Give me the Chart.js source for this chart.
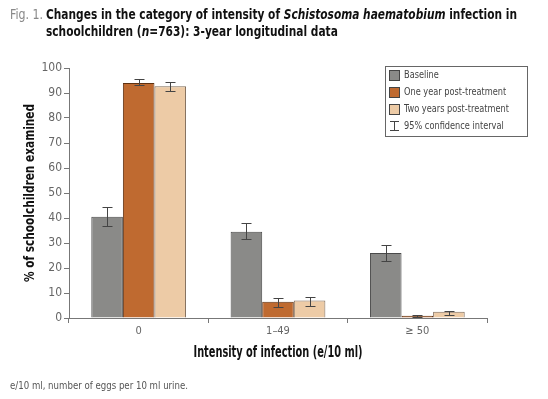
<!DOCTYPE html>
<html><head><meta charset="utf-8">
<script src="https://cdn.jsdelivr.net/npm/chart.js@4"></script>
<style>
html,body{margin:0;padding:0;background:#fff;}
#wrap{position:relative;width:548px;height:399px;overflow:hidden;font-family:"Liberation Sans Narrow","DejaVu Sans Condensed",sans-serif;}
#c{position:absolute;left:0;top:0;}
.sq{position:absolute;white-space:nowrap;transform-origin:0 0;}
#fig{left:10px;top:6px;font-size:14px;line-height:17px;color:#888;}
#ttl{left:46px;top:6px;font-size:14px;line-height:17px;color:#111;font-weight:bold;}
#foot{left:10px;top:379px;font-size:11px;line-height:14px;color:#555;}
</style></head>
<body>
<div id="wrap">
<canvas id="c" width="548" height="399"></canvas>
<div id="fig" class="sq">Fig. 1.</div>
<div id="ttl" class="sq"><span id="l1">Changes in the category of intensity of <i>Schistosoma haematobium</i> infection in</span><br><span>schoolchildren (<i>n</i>=763): 3-year longitudinal data</span></div>
<div id="foot" class="sq">e/10 ml, number of eggs per 10 ml urine.</div>
</div>
<script>
const FONT = '"Liberation Sans Narrow","DejaVu Sans Condensed",sans-serif';
const categories = ['0', '1–49', '≥ 50'];
const seriesNames = ['Baseline', 'One year post-treatment', 'Two years post-treatment'];
const baseline = [40.5, 34.5, 26.0];
const oneYear = [94.0, 6.5, 0.9];
const twoYears = [92.7, 7.0, 2.5];
const baselineLo = [37.0, 31.5, 23.0];
const baselineHi = [44.5, 38.0, 29.2];
const oneYearLo = [93.0, 4.5, 0.5];
const oneYearHi = [95.5, 8.2, 1.3];
const twoYearsLo = [91.0, 4.8, 1.4];
const twoYearsHi = [94.5, 8.4, 3.0];
const yTicks = [0, 10, 20, 30, 40, 50, 60, 70, 80, 90, 100];
const ciLabel = '95% confidence interval';
const xTitle = 'Intensity of infection (e/10 ml)';
const yTitle = '% of schoolchildren examined';

// squeeze HTML text horizontally to match the condensed typeface
function squeeze(el, measureEl, target) {
  const w = measureEl.getBoundingClientRect().width;
  el.style.transform = 'scaleX(' + (target / w) + ')';
}
squeeze(document.getElementById('fig'), document.getElementById('fig'), 33);
squeeze(document.getElementById('ttl'), document.getElementById('l1'), 471);
squeeze(document.getElementById('foot'), document.getElementById('foot'), 178);

const fills = ['#8a8a88', '#bf6a30', '#edcba6'];
const borders = ['#4a4a4a', '#5e3010', '#7d6a58'];
const errLo = [baselineLo, oneYearLo, twoYearsLo];
const errHi = [baselineHi, oneYearHi, twoYearsHi];

function squeezedText(ctx, text, x, y, target, rot) {
  const w = ctx.measureText(text).width;
  ctx.save();
  ctx.translate(x, y);
  if (rot) ctx.rotate(rot);
  ctx.scale(target / w, 1);
  ctx.fillText(text, 0, 0);
  ctx.restore();
}

const errorBars = {
  id: 'errorBars',
  afterDatasetsDraw(chart) {
    const ctx = chart.ctx, y = chart.scales.y;
    ctx.save();
    ctx.strokeStyle = '#444';
    ctx.lineWidth = 1;
    chart.data.datasets.forEach((ds, di) => {
      chart.getDatasetMeta(di).data.forEach((bar, i) => {
        const x = Math.round(bar.x) + 0.5;
        const top = Math.round(y.getPixelForValue(errHi[di][i])) + 0.5;
        const bot = Math.round(y.getPixelForValue(errLo[di][i])) + 0.5;
        ctx.beginPath();
        ctx.moveTo(x, top); ctx.lineTo(x, bot);
        ctx.moveTo(x - 5, top); ctx.lineTo(x + 5, top);
        ctx.moveTo(x - 5, bot); ctx.lineTo(x + 5, bot);
        ctx.stroke();
      });
    });
    ctx.restore();
  }
};

const decorations = {
  id: 'decorations',
  afterDraw(chart) {
    const ctx = chart.ctx, a = chart.chartArea;
    ctx.save();
    // axis titles
    ctx.fillStyle = '#111';
    ctx.textAlign = 'center';
    ctx.textBaseline = 'middle';
    ctx.font = 'bold 15px ' + FONT;
    squeezedText(ctx, xTitle, (a.left + a.right) / 2, 353, 169, 0);
    ctx.font = 'bold 14px ' + FONT;
    squeezedText(ctx, yTitle, 30, (a.top + a.bottom) / 2, 178, -Math.PI / 2);
    // legend
    const bx = 385.5, by = 66.5, bw = 142, bh = 70;
    ctx.fillStyle = '#fff';
    ctx.fillRect(bx, by, bw, bh);
    ctx.strokeStyle = '#666';
    ctx.lineWidth = 1;
    ctx.strokeRect(bx, by, bw, bh);
    ctx.font = '11px ' + FONT;
    ctx.textAlign = 'left';
    const k = 105 / ctx.measureText(seriesNames[2]).width;
    const rows = [75, 92, 109, 126];
    seriesNames.forEach((n, i) => {
      ctx.fillStyle = fills[i];
      ctx.fillRect(389, rows[i] - 5, 10, 10);
      ctx.strokeStyle = '#444';
      ctx.strokeRect(389.5, rows[i] - 4.5, 10, 10);
      ctx.fillStyle = '#444';
      squeezedText(ctx, n, 404, rows[i] + 0.5, ctx.measureText(n).width * k, 0);
    });
    const cy = rows[3];
    ctx.strokeStyle = '#444';
    ctx.beginPath();
    ctx.moveTo(394.5, cy - 5); ctx.lineTo(394.5, cy + 5);
    ctx.moveTo(390, cy - 4.5); ctx.lineTo(399, cy - 4.5);
    ctx.moveTo(390, cy + 4.5); ctx.lineTo(399, cy + 4.5);
    ctx.stroke();
    ctx.fillStyle = '#444';
    squeezedText(ctx, ciLabel, 404, cy + 0.5, ctx.measureText(ciLabel).width * k, 0);
    ctx.restore();
  }
};

new Chart(document.getElementById('c'), {
  type: 'bar',
  data: {
    labels: categories,
    datasets: [baseline, oneYear, twoYears].map((d, i) => ({
      label: seriesNames[i],
      data: d,
      backgroundColor: fills[i],
      borderColor: borders[i],
      borderWidth: 1,
      barPercentage: 1,
      categoryPercentage: 0.68
    }))
  },
  options: {
    responsive: false,
    animation: false,
    layout: { padding: { left: 24, right: 61, top: 68, bottom: 0 } },
    plugins: { legend: { display: false }, tooltip: { enabled: false } },
    scales: {
      x: {
        afterFit: s => { s.height = 81; },
        grid: { display: true, drawOnChartArea: false, tickLength: 5, color: '#777', offset: true },
        border: { display: true, color: '#777' },
        ticks: { color: '#666', font: { family: FONT, size: 11 }, padding: 2 }
      },
      y: {
        min: 0, max: 100,
        afterBuildTicks: s => { s.ticks = yTicks.map(v => ({ value: v })); },
        afterFit: s => { s.width = 45; },
        grid: { display: true, drawOnChartArea: false, tickLength: 5, color: '#777' },
        border: { display: true, color: '#777' },
        ticks: { color: '#666', font: { family: FONT, size: 12 }, padding: 2 }
      }
    }
  },
  plugins: [errorBars, decorations]
});
</script>
</body></html>
